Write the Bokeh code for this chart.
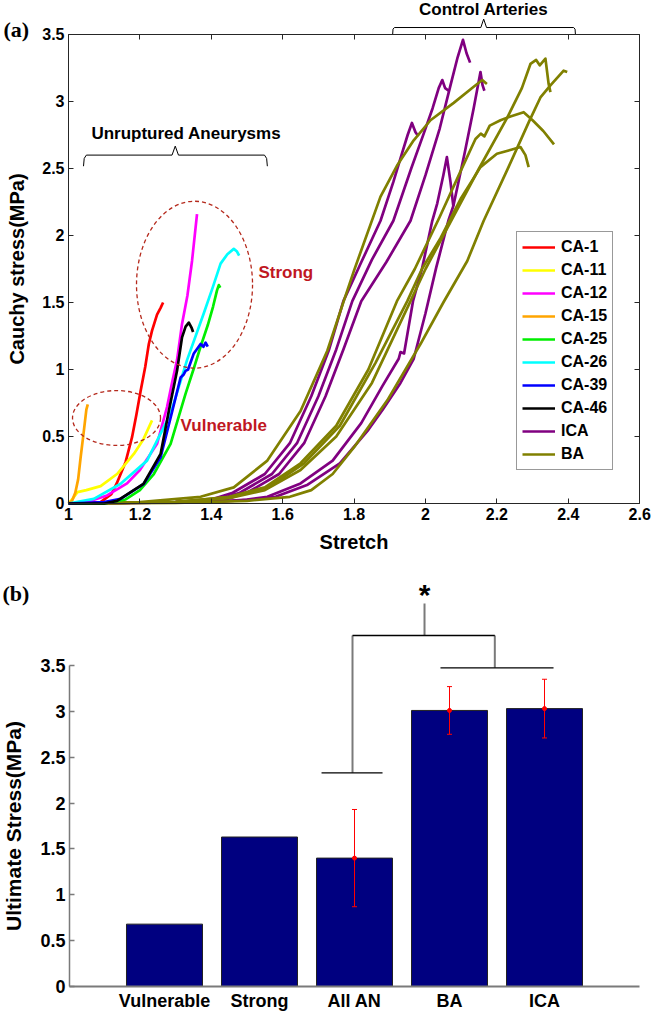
from bokeh.plotting import figure
from bokeh.models import (ColumnDataSource, LinearAxis, FixedTicker, NumeralTickFormatter,
                          Legend, LegendItem, Whisker, TeeHead, Range1d)
from bokeh.layouts import column
from bokeh.embed import file_html
from bokeh.resources import INLINE
from bokeh.core.properties import value

FONT = "Liberation Sans"
SERIF = "Liberation Serif"

# ---------------- panel (a) data: stretch / Cauchy stress (MPa) ----------------
ca1_s = [1.00, 1.09, 1.12, 1.135, 1.16, 1.178, 1.19, 1.202, 1.215, 1.225, 1.234, 1.248, 1.258, 1.265]
ca1_t = [0.00, 0.01, 0.07, 0.15, 0.31, 0.495, 0.66, 0.84, 1.02, 1.19, 1.29, 1.41, 1.46, 1.50]
ca11_s = [1.00, 1.01, 1.025, 1.05, 1.09, 1.136, 1.183, 1.21, 1.234]
ca11_t = [0.00, 0.03, 0.085, 0.10, 0.13, 0.22, 0.37, 0.48, 0.62]
ca12_s = [1.00, 1.05, 1.108, 1.164, 1.20, 1.248, 1.276, 1.29, 1.304, 1.318, 1.333, 1.346, 1.36]
ca12_t = [0.00, 0.01, 0.06, 0.15, 0.25, 0.445, 0.72, 0.90, 1.07, 1.34, 1.55, 1.81, 2.16]
ca15_s = [1.00, 1.01, 1.019, 1.027, 1.034, 1.042, 1.05, 1.054]
ca15_t = [0.00, 0.02, 0.08, 0.18, 0.345, 0.52, 0.70, 0.74]
ca25_s = [1.00, 1.10, 1.16, 1.20, 1.239, 1.286, 1.328, 1.35, 1.37, 1.39, 1.405, 1.416, 1.421, 1.425]
ca25_t = [0.00, 0.00, 0.03, 0.10, 0.22, 0.445, 0.82, 1.00, 1.17, 1.33, 1.47, 1.59, 1.63, 1.61]
ca26_s = [1.00, 1.071, 1.146, 1.22, 1.286, 1.332, 1.379, 1.405, 1.426, 1.445, 1.463, 1.472, 1.478]
ca26_t = [0.00, 0.035, 0.147, 0.32, 0.67, 1.07, 1.42, 1.62, 1.79, 1.86, 1.90, 1.88, 1.85]
ca39_s = [1.00, 1.10, 1.146, 1.211, 1.258, 1.286, 1.314, 1.322, 1.328, 1.335, 1.351, 1.37, 1.378, 1.384, 1.39]
ca39_t = [0.00, 0.01, 0.035, 0.147, 0.345, 0.64, 0.94, 0.96, 0.99, 1.00, 1.12, 1.19, 1.17, 1.20, 1.17]
ca46_s = [1.00, 1.10, 1.136, 1.21, 1.258, 1.281, 1.304, 1.318, 1.328, 1.337, 1.345, 1.349]
ca46_t = [0.00, 0.00, 0.02, 0.147, 0.37, 0.69, 0.99, 1.24, 1.32, 1.35, 1.31, 1.28]

ica1_s = [1.00, 1.30, 1.44, 1.50, 1.59, 1.66, 1.72, 1.77, 1.82, 1.89, 1.958, 2.00, 2.04, 2.07, 2.09, 2.105, 2.115, 2.125]
ica1_t = [0.00, 0.01, 0.03, 0.08, 0.22, 0.45, 0.80, 1.15, 1.51, 1.80, 2.11, 2.45, 2.80, 3.12, 3.33, 3.46, 3.36, 3.29]
ica2_s = [1.00, 1.30, 1.42, 1.48, 1.57, 1.64, 1.70, 1.75, 1.795, 1.85, 1.91, 1.96, 1.995, 2.02, 2.037, 2.047, 2.055, 2.065]
ica2_t = [0.00, 0.01, 0.03, 0.08, 0.22, 0.45, 0.80, 1.15, 1.51, 1.82, 2.11, 2.50, 2.76, 2.95, 3.10, 3.16, 3.10, 3.08]
ica3_s = [1.00, 1.30, 1.40, 1.46, 1.55, 1.62, 1.68, 1.73, 1.77, 1.82, 1.874, 1.91, 1.935, 1.95, 1.962, 1.972, 1.98]
ica3_t = [0.00, 0.01, 0.03, 0.08, 0.22, 0.45, 0.80, 1.15, 1.51, 1.80, 2.11, 2.40, 2.62, 2.75, 2.84, 2.77, 2.74]
ica4_s = [1.00, 1.40, 1.52, 1.58, 1.67, 1.76, 1.84, 1.88, 1.93, 1.967, 2.00, 2.03, 2.064, 2.078, 2.11, 2.135, 2.154, 2.16, 2.165]
ica4_t = [0.00, 0.01, 0.03, 0.05, 0.14, 0.30, 0.55, 0.70, 0.90, 1.08, 1.42, 1.76, 2.11, 2.22, 2.62, 2.95, 3.22, 3.12, 3.08]
ica5_s = [1.00, 1.40, 1.50, 1.557, 1.65, 1.74, 1.82, 1.88, 1.925, 1.93, 1.94, 1.965, 1.99, 2.019, 2.033, 2.05, 2.06, 2.07, 2.078]
ica5_t = [0.00, 0.01, 0.03, 0.05, 0.15, 0.32, 0.60, 0.88, 1.08, 1.13, 1.12, 1.51, 1.75, 2.11, 2.24, 2.45, 2.585, 2.40, 2.22]

ba1_s = [1.00, 1.20, 1.37, 1.463, 1.557, 1.65, 1.725, 1.771, 1.80, 1.874, 1.92, 1.967, 2.014, 2.079, 2.135, 2.159, 2.172]
ba1_t = [0.00, 0.01, 0.05, 0.12, 0.32, 0.69, 1.14, 1.51, 1.74, 2.29, 2.52, 2.71, 2.86, 2.99, 3.11, 3.16, 3.13]
ba2_s = [1.00, 1.30, 1.45, 1.55, 1.65, 1.75, 1.85, 1.958, 2.00, 2.07, 2.15, 2.229, 2.27, 2.294, 2.31, 2.32, 2.336, 2.345, 2.35]
ba2_t = [0.00, 0.01, 0.04, 0.10, 0.25, 0.50, 0.90, 1.51, 1.75, 2.10, 2.50, 2.88, 3.10, 3.28, 3.31, 3.27, 3.32, 3.13, 3.07]
ba3_s = [1.00, 1.30, 1.45, 1.55, 1.65, 1.75, 1.84, 1.92, 1.97, 2.04, 2.10, 2.14, 2.155, 2.165, 2.18, 2.21, 2.24, 2.275, 2.30, 2.33, 2.36]
ba3_t = [0.00, 0.01, 0.05, 0.12, 0.30, 0.58, 1.00, 1.51, 1.75, 2.14, 2.49, 2.72, 2.76, 2.74, 2.82, 2.86, 2.89, 2.92, 2.86, 2.78, 2.68]
ba4_s = [1.00, 1.30, 1.46, 1.56, 1.66, 1.76, 1.86, 1.949, 1.99, 2.042, 2.10, 2.154, 2.20, 2.24, 2.266, 2.28, 2.289]
ba4_t = [0.00, 0.01, 0.05, 0.12, 0.30, 0.58, 1.05, 1.51, 1.75, 1.98, 2.28, 2.51, 2.61, 2.64, 2.66, 2.60, 2.51]
ba5_s = [1.00, 1.30, 1.50, 1.62, 1.68, 1.74, 1.80, 1.893, 1.986, 2.05, 2.117, 2.163, 2.229, 2.29, 2.322, 2.35, 2.387, 2.397]
ba5_t = [0.00, 0.005, 0.02, 0.05, 0.10, 0.22, 0.42, 0.77, 1.19, 1.50, 1.81, 2.11, 2.49, 2.85, 3.03, 3.12, 3.23, 3.22]

ca_names = ["CA-1", "CA-11", "CA-12", "CA-15", "CA-25", "CA-26", "CA-39", "CA-46"]
ca_colors = ["#ff0000", "#ffff00", "#ff00ff", "#ffa500", "#00ee00", "#00ffff", "#0000ff", "#000000"]

x_ticks_a = [1.0, 1.2, 1.4, 1.6, 1.8, 2.0, 2.2, 2.4, 2.6]
y_ticks_a = [0, 0.5, 1.0, 1.5, 2.0, 2.5, 3.0, 3.5]

# annotation geometry (panel a), data coordinates
strong_ell = dict(x=1.353, y=1.633, w=0.325, h=1.246)
vuln_ell = dict(x=1.1345, y=0.638, w=0.2465, h=0.41)
brace_un_s = [1.042, 1.044, 1.05, 1.29, 1.299, 1.308, 1.549, 1.555, 1.557]
brace_un_t = [2.517, 2.575, 2.60, 2.60, 2.667, 2.60, 2.60, 2.575, 2.517]
brace_ca_s = [1.908, 1.909, 1.913, 2.155, 2.163, 2.171, 2.415, 2.419, 2.42]
brace_ca_t = [3.50, 3.54, 3.552, 3.552, 3.615, 3.552, 3.552, 3.54, 3.50]

# ---------------- panel (b) data ----------------
bar_names = ["Vulnerable", "Strong", "All AN", "BA", "ICA"]
bar_pos = [1, 2, 3, 4, 5]
bar_vals = [0.68, 1.63, 1.40, 3.01, 3.03]
err_pos = [3, 4, 5]
err_mean = [1.40, 3.01, 3.03]
err_sd = [0.53, 0.26, 0.32]
y_ticks_b = [0, 0.5, 1.0, 1.5, 2.0, 2.5, 3.0, 3.5]

brk_h_xs = [[2.653, 3.295], [2.979, 4.477], [3.905, 5.095]]
brk_h_ys = [[2.33, 2.33], [3.827, 3.827], [3.475, 3.475]]
brk_v_xs = [[2.979, 2.979], [4.477, 4.477], [3.737, 3.737]]
brk_v_ys = [[2.33, 3.827], [3.827, 3.475], [3.827, 4.176]]
star_x, star_y = [3.737], [4.27]

# ====================== figure (a) ======================
W = 652
H1 = 557
H2 = 456

p1 = figure(width=W, height=H1, x_range=Range1d(0.8095, 2.6359), y_range=Range1d(-0.403, 3.7537),
            output_backend="svg", toolbar_location=None, x_axis_location=None, y_axis_location=None,
            min_border=0, outline_line_color=None, background_fill_color="white",
            border_fill_color="white")
p1.grid.visible = False

BOX = "#262626"


def style_axis(ax, size, color, width, labels=True):
    ax.major_tick_in = 5
    ax.major_tick_out = 0
    ax.minor_tick_line_color = None
    ax.axis_line_color = color
    ax.axis_line_width = width
    ax.major_tick_line_color = color
    ax.major_tick_line_width = width
    ax.major_label_text_font = FONT
    ax.major_label_text_font_style = "bold"
    ax.major_label_text_font_size = size
    ax.major_label_text_color = "black" if labels else None
    ax.axis_label_text_font = FONT
    ax.axis_label_text_font_style = "bold"
    ax.axis_label_text_color = "black"


ax_l = LinearAxis(fixed_location=1.0, bounds=(0, 3.5), ticker=FixedTicker(ticks=y_ticks_a),
                  formatter=NumeralTickFormatter(format="0.[0]"), axis_label="Cauchy stress(MPa)")
style_axis(ax_l, "16px", BOX, 1)
ax_l.major_label_standoff = 4
ax_l.axis_label_text_font_size = "20px"
ax_l.axis_label_standoff = 11
p1.add_layout(ax_l, "left")

ax_r = LinearAxis(fixed_location=2.6, bounds=(0, 3.5), ticker=FixedTicker(ticks=y_ticks_a))
style_axis(ax_r, "16px", BOX, 1, labels=False)
p1.add_layout(ax_r, "right")

ax_b = LinearAxis(fixed_location=0.0, bounds=(1.0, 2.6), ticker=FixedTicker(ticks=x_ticks_a),
                  formatter=NumeralTickFormatter(format="0.[0]"), axis_label="Stretch")
style_axis(ax_b, "16px", BOX, 1)
ax_b.major_label_standoff = 5
ax_b.axis_label_text_font_size = "20px"
ax_b.axis_label_standoff = 7
p1.add_layout(ax_b, "below")

ax_t = LinearAxis(fixed_location=3.5, bounds=(1.0, 2.6), ticker=FixedTicker(ticks=x_ticks_a))
style_axis(ax_t, "16px", BOX, 1, labels=False)
p1.add_layout(ax_t, "above")

LW = 2.7
ca_data = [(ca1_s, ca1_t), (ca11_s, ca11_t), (ca12_s, ca12_t), (ca15_s, ca15_t),
           (ca25_s, ca25_t), (ca26_s, ca26_t), (ca39_s, ca39_t), (ca46_s, ca46_t)]

ica_src = ColumnDataSource(dict(xs=[ica1_s, ica2_s, ica3_s, ica4_s, ica5_s],
                                ys=[ica1_t, ica2_t, ica3_t, ica4_t, ica5_t]))
ba_src = ColumnDataSource(dict(xs=[ba1_s, ba2_s, ba3_s, ba4_s, ba5_s],
                               ys=[ba1_t, ba2_t, ba3_t, ba4_t, ba5_t]))
r_ica = p1.multi_line(xs="xs", ys="ys", source=ica_src, line_color="#800080", line_width=LW,
                      line_join="round")
r_ba = p1.multi_line(xs="xs", ys="ys", source=ba_src, line_color="#808000", line_width=LW,
                     line_join="round")

ca_renderers = []
for (sx, sy), c in zip(ca_data, ca_colors):
    ca_renderers.append(p1.line(sx, sy, line_color=c, line_width=LW, line_join="round"))

# dashed ellipses
ELL = "#b5291c"
p1.ellipse(x=[strong_ell["x"], vuln_ell["x"]], y=[strong_ell["y"], vuln_ell["y"]],
           width=[strong_ell["w"], vuln_ell["w"]], height=[strong_ell["h"], vuln_ell["h"]],
           fill_color=None, line_color=ELL, line_dash="4 3", line_width=1.3)

# braces
p1.line(brace_un_s, brace_un_t, line_color="black", line_width=1)
p1.line(brace_ca_s, brace_ca_t, line_color="black", line_width=1)

p1.text(x=[1.33, 2.163], y=[2.761, 3.687], text=["Unruptured Aneurysms", "Control Arteries"],
        text_font=value(FONT), text_font_style="bold", text_font_size="17px",
        text_color="black", text_align="center", text_baseline="middle")
p1.text(x=[1.532, 1.314], y=[1.724, 0.582], text=["Strong", "Vulnerable"],
        text_font=value(FONT), text_font_style="bold", text_font_size="17px",
        text_color="#c0171f", text_align="left", text_baseline="middle")
p1.text(x=[0.818], y=[3.537], text=["(a)"], text_font=value(SERIF), text_font_style="bold",
        text_font_size="22px", text_color="black", text_align="left", text_baseline="middle")

items = [LegendItem(label=n, renderers=[r]) for n, r in zip(ca_names, ca_renderers)]
items.append(LegendItem(label="ICA", renderers=[r_ica]))
items.append(LegendItem(label="BA", renderers=[r_ba]))
legend = Legend(items=items, location=(516, 87), orientation="vertical",
                glyph_width=33, glyph_height=20, label_height=20, spacing=3, padding=5,
                margin=0, label_standoff=6, border_line_color="#333333", border_line_width=1,
                background_fill_color="white", background_fill_alpha=1.0,
                label_text_font=FONT, label_text_font_style="bold",
                label_text_font_size="16px", label_text_color="black")
p1.add_layout(legend)

# ====================== figure (b) ======================
p2 = figure(width=W, height=H2, x_range=Range1d(-0.7263, 6.1368), y_range=Range1d(-0.2944, 4.6776),
            output_backend="svg", toolbar_location=None, x_axis_location=None, y_axis_location=None,
            min_border=0, outline_line_color=None, background_fill_color="white",
            border_fill_color="white")
p2.grid.visible = False

GRAY = "#7a7a7a"

p2.vbar(x=bar_pos, top=bar_vals, width=0.8, fill_color="#000080", line_color="#222222",
        line_width=1)

err_src = ColumnDataSource(dict(x=err_pos, mean=err_mean,
                                upper=[m + s for m, s in zip(err_mean, err_sd)],
                                lower=[m - s for m, s in zip(err_mean, err_sd)]))
p2.add_layout(Whisker(source=err_src, base="x", upper="upper", lower="lower",
                      line_color="#ff0000", line_width=1, level="overlay",
                      upper_head=TeeHead(size=5, line_color="#ff0000", line_width=1),
                      lower_head=TeeHead(size=5, line_color="#ff0000", line_width=1)))
p2.scatter(x="x", y="mean", source=err_src, size=4, color="#ff0000")

p2.multi_line(xs=brk_v_xs, ys=brk_v_ys, line_color=GRAY, line_width=2)
p2.multi_line(xs=brk_h_xs, ys=brk_h_ys, line_color="black", line_width=1.3)
p2.text(x=star_x, y=star_y, text=["*"], text_font=value(FONT), text_font_style="bold",
        text_font_size="30px", text_color="black", text_align="center", text_baseline="middle")
p2.text(x=[-0.705], y=[4.285], text=["(b)"], text_font=value(SERIF), text_font_style="bold",
        text_font_size="22px", text_color="black", text_align="left", text_baseline="middle")

bx_l = LinearAxis(fixed_location=0.0, bounds=(0, 3.5), ticker=FixedTicker(ticks=y_ticks_b),
                  formatter=NumeralTickFormatter(format="0.[0]"), axis_label="Ultimate Stress(MPa)")
style_axis(bx_l, "18px", GRAY, 1.5)
bx_l.major_label_standoff = 4
bx_l.axis_label_text_font_size = "21px"
bx_l.axis_label_standoff = 12
p2.add_layout(bx_l, "left")

bx_b = LinearAxis(fixed_location=0.0, bounds=(0, 6), ticker=FixedTicker(ticks=bar_pos),
                  major_label_overrides={i: n for i, n in zip(bar_pos, bar_names)})
style_axis(bx_b, "18px", GRAY, 2)
bx_b.major_tick_in = 0
bx_b.major_label_standoff = 5
p2.add_layout(bx_b, "below")

layout = column(p1, p2, spacing=0)
open("out.html", "w").write(file_html(layout, INLINE))
